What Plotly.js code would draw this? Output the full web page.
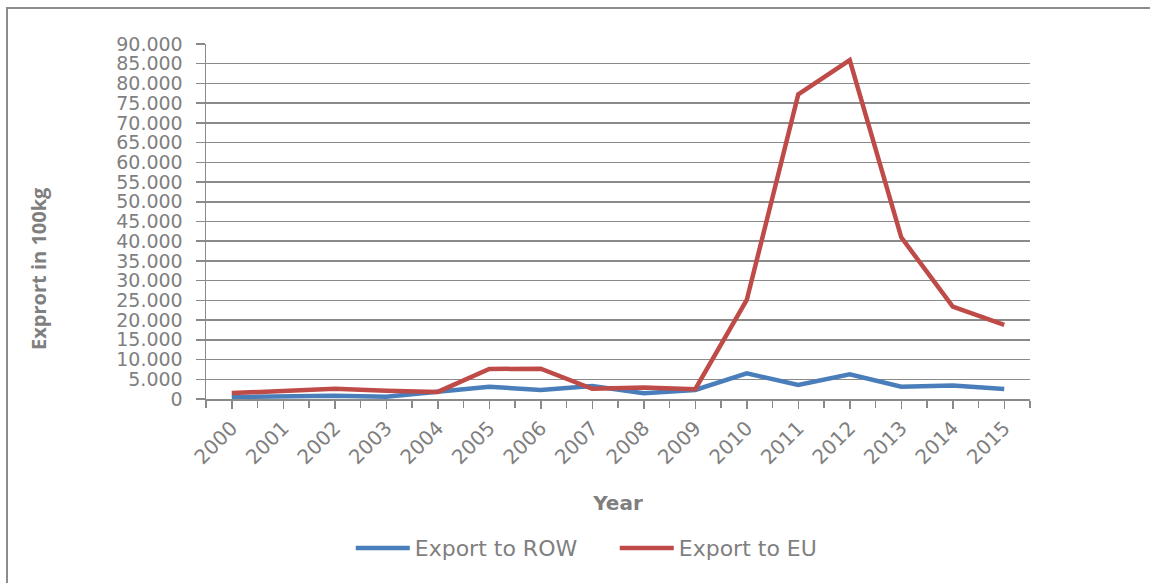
<!DOCTYPE html>
<html>
<head>
<meta charset="utf-8">
<script src="https://cdn.plot.ly/plotly-3.0.1.min.js"></script>
<style>
  html, body { margin: 0; padding: 0; background: #fff; }
  #wrap { position: relative; width: 1150px; height: 583px; }
  #chart { width: 1150px; height: 583px; }
  #frame { position: absolute; left: 6px; top: 7px; right: -2px; bottom: -2px;
           border-top: 2px solid #8c8c8c; border-left: 2px solid #8c8c8c; pointer-events: none; }
</style>
</head>
<body>
<div id="wrap">
  <div id="chart"></div>
  <div id="frame"></div>
</div>
<script>
const years = [2000, 2001, 2002, 2003, 2004, 2005, 2006, 2007, 2008, 2009, 2010, 2011, 2012, 2013, 2014, 2015];
const exportROW = [500, 800, 850, 600, 1900, 3100, 2300, 3300, 1450, 2300, 6500, 3550, 6250, 3100, 3450, 2550];
const exportEU = [1500, 2000, 2600, 2100, 1800, 7600, 7700, 2600, 2900, 2500, 25100, 77200, 85900, 41000, 23400, 18800];
const seriesNames = ['Export to ROW', 'Export to EU'];
const yTitle = 'Exprort in 100kg';
const xTitle = 'Year';

const gridColor = '#8a8a8a';
const textColor = '#7f7f7f';

const traces = [
  { x: years, y: exportROW, name: seriesNames[0], type: 'scatter', mode: 'lines',
    line: { color: '#4A7EBB', width: 4.5 } },
  { x: years, y: exportEU, name: seriesNames[1], type: 'scatter', mode: 'lines',
    line: { color: '#BE4B48', width: 4.5 } }
];

const layout = {
  width: 1150, height: 583,
  margin: { l: 206, r: 120, t: 44, b: 184 },
  paper_bgcolor: '#ffffff', plot_bgcolor: '#ffffff',
  separators: ',.',
  font: { family: 'DejaVu Sans', color: textColor, size: 19 },
  showlegend: true,
  legend: { orientation: 'h', x: 0.1757, xanchor: 'left', y: -0.42, yanchor: 'middle',
            font: { family: 'DejaVu Sans', size: 22, color: textColor },
            itemwidth: 54, entrywidth: 195, entrywidthmode: 'pixels', tracegroupgap: 0 },
  xaxis: {
    type: 'linear', range: [1999.5, 2015.5], dtick: 1, tick0: 2000, tickformat: 'd',
    tickangle: -45, ticks: 'outside', ticklen: 8, tickwidth: 1.5, tickcolor: gridColor,
    showline: true, linecolor: gridColor, linewidth: 1.5,
    showgrid: false, zeroline: false,
    tickfont: { family: 'DejaVu Sans', size: 20, color: textColor },
    minor: { dtick: 0.5, tick0: 1999.5, ticks: 'outside', ticklen: 7, tickwidth: 1.5, tickcolor: gridColor, showgrid: false },
    title: { text: xTitle, standoff: 28, font: { family: 'DejaVu Sans', size: 20, color: textColor, weight: 'bold' } }
  },
  yaxis: {
    range: [0, 90000], dtick: 5000, tick0: 0, tickformat: ',d',
    ticks: 'outside', ticklen: 9, tickwidth: 1.5, tickcolor: gridColor,
    ticklabelstandoff: 9,
    showline: true, linecolor: gridColor, linewidth: 1.5,
    showgrid: true, gridcolor: gridColor, gridwidth: 1.5, zeroline: false,
    tickfont: { family: 'DejaVu Sans', size: 19, color: textColor }
  },
  annotations: [
    { text: yTitle, xref: 'paper', yref: 'paper', x: -0.204, y: 0.369,
      xanchor: 'center', yanchor: 'middle', textangle: -90, showarrow: false,
      font: { family: 'Open Sans', size: 20, color: textColor, weight: 'bold' } }
  ]
};

Plotly.newPlot('chart', traces, layout, { displayModeBar: false, staticPlot: true });
</script>
</body>
</html>
